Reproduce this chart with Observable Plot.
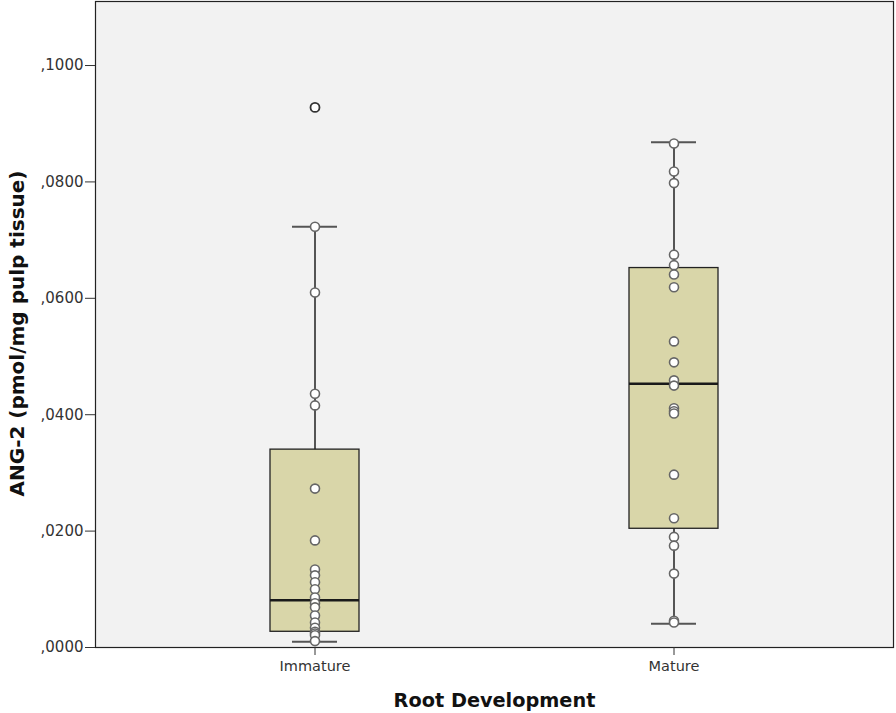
<!DOCTYPE html>
<html><head><meta charset="utf-8">
<script src="https://cdn.jsdelivr.net/npm/d3@7"></script>
<script src="https://cdn.jsdelivr.net/npm/@observablehq/plot@0.6"></script>
<style>body{margin:0;background:#fff;} #chart svg{display:block;}</style>
</head><body><div id="chart"></div>
<script>
const groups = ["Immature", "Mature"];
const immatureValues = [0.0723, 0.0610, 0.0436, 0.0416, 0.0273, 0.0184, 0.0134, 0.0124, 0.0112, 0.0100, 0.0086, 0.0076, 0.0069, 0.0055, 0.0043, 0.0034, 0.0027, 0.0024, 0.0021, 0.0011];
const immatureOutliers = [0.0928];
const matureValues = [0.0866, 0.0818, 0.0798, 0.0675, 0.0657, 0.0641, 0.0619, 0.0526, 0.0490, 0.0459, 0.0450, 0.0411, 0.0406, 0.0402, 0.0297, 0.0222, 0.0190, 0.0175, 0.0127, 0.0046, 0.0043];
const q1 = [0.0027, 0.0204];
const medians = [0.0081, 0.0453];
const q3 = [0.0340, 0.0652];
const whiskerLow = [0.0010, 0.0041];
const whiskerHigh = [0.0723, 0.0868];
const yTicks = [0, 0.02, 0.04, 0.06, 0.08, 0.10];
const xTitle = "Root Development";
const yTitle = "ANG-2 (pmol/mg pulp tissue)";

const stats = groups.map((g, i) => ({group: g, q1: q1[i], median: medians[i], q3: q3[i], lo: whiskerLow[i], hi: whiskerHigh[i]}));
const points = [
  ...immatureValues.map(v => ({group: groups[0], value: v})),
  ...matureValues.map(v => ({group: groups[1], value: v}))
];
const outliers = immatureOutliers.map(v => ({group: groups[0], value: v}));
const fmt = v => d3.format(".4f")(v).replace(/^0\./, ",");

const chart = Plot.plot({
  width: 896,
  height: 713,
  marginLeft: 95,
  marginRight: 3,
  marginTop: 1,
  marginBottom: 66,
  style: {fontFamily: "DejaVu Sans, sans-serif", background: "#ffffff", color: "#222"},
  x: {domain: groups, paddingInner: 0.753, paddingOuter: 0.485},
  y: {domain: [0, 0.111]},
  marks: [
    Plot.frame({fill: "#f2f2f2"}),
    Plot.ruleX(stats, {x: "group", y1: "lo", y2: "hi", stroke: "#555", strokeWidth: 2}),
    Plot.tickY(stats, {x: "group", y: "lo", insetLeft: 22, insetRight: 22, stroke: "#555", strokeWidth: 2}),
    Plot.tickY(stats, {x: "group", y: "hi", insetLeft: 22, insetRight: 22, stroke: "#555", strokeWidth: 2}),
    Plot.barY(stats, {x: "group", y1: "q1", y2: "q3", fill: "#d9d6a9", stroke: "#222", strokeWidth: 1.3}),
    Plot.tickY(stats, {x: "group", y: "median", stroke: "#1a1a1a", strokeWidth: 2.5}),
    Plot.dot(points, {x: "group", y: "value", r: 4.5, fill: "#ffffff", stroke: "#666", strokeWidth: 1.6}),
    Plot.dot(outliers, {x: "group", y: "value", r: 4.5, fill: "#ffffff", stroke: "#333", strokeWidth: 1.8}),
    Plot.frame({stroke: "#222", strokeWidth: 1.2}),
    Plot.axisY({ticks: yTicks, tickFormat: fmt, tickSize: 10, tickPadding: 2, fontSize: 15, label: null, color: "#333"}),
    Plot.axisX({tickSize: 8, tickPadding: 5, fontSize: 14.5, label: null, color: "#333"}),
    Plot.text([xTitle], {frameAnchor: "bottom", dy: 59, text: d => d, fontSize: 19.3, fontWeight: "bold", fill: "#111"}),
    Plot.text([yTitle], {frameAnchor: "left", textAnchor: "middle", dx: -78, dy: 9, rotate: -90, text: d => d, fontSize: 20, fontWeight: "bold", fill: "#111"})
  ]
});
document.getElementById("chart").append(chart);
</script>
</body></html>
